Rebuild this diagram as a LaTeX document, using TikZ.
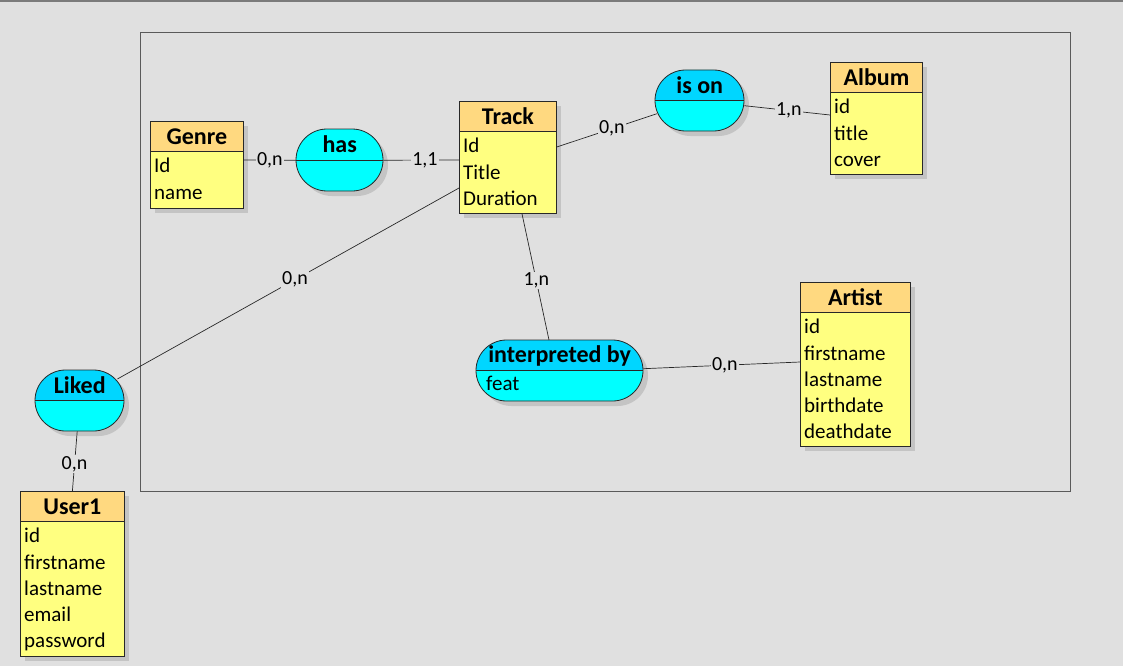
\documentclass[tikz,border=0pt]{standalone}
\usepackage{fontspec}
\setmainfont{Carlito}
\usetikzlibrary{calc}
\definecolor{bgc}{RGB}{224,224,224}
\definecolor{framec}{RGB}{90,90,90}
\definecolor{hdrc}{RGB}{255,217,128}
\definecolor{bodyc}{RGB}{255,255,128}
\definecolor{cyhdr}{RGB}{0,214,255}
\definecolor{cybody}{RGB}{0,255,255}
\definecolor{shadc}{RGB}{196,196,196}
\definecolor{linec}{RGB}{40,40,40}
\tikzset{
  ent/.style={draw=linec, line width=0.8pt, inner sep=0pt},
  titlefont/.style={font=\fontsize{24}{26}\selectfont\bfseries},
  attrs/.style={anchor=north west, align=left, inner sep=0pt, font=\fontsize{21}{26.3}\selectfont},
  lbl/.style={fill=bgc, inner sep=1pt, font=\fontsize{20}{22}\selectfont},
  conn/.style={draw=linec, line width=0.7pt},
  hid/.style={inner sep=0pt, anchor=north west}
}
% entity: #1 name, #2 x, #3 y, #4 w, #5 h, #6 title, #7 attrs
\newcommand\myentity[7]{%
  \fill[shadc] (#2+5,#3+5) rectangle ++(#4,#5);
  \node[ent, fill=bodyc, hid, minimum width=#4pt, minimum height=#5pt] (#1) at (#2,#3) {};
  \fill[hdrc] (#1.north west) rectangle ([yshift=-30pt]#1.north east);
  \draw[linec, line width=0.8pt] (#1.north west) rectangle (#1.south east);
  \draw[linec, line width=0.8pt] ([yshift=-30pt]#1.north west) -- ([yshift=-30pt]#1.north east);
  \node[titlefont] (#1-t) at ([yshift=-15.5pt]#1.north) {#6};
  \node[attrs] (#1-a) at ([xshift=4pt,yshift=-37pt]#1.north west) {#7};
}
% relation: #1 name, #2 x, #3 y, #4 w, #5 h, #6 title, #7 attrs, #8 header colour
\newcommand\myrel[8]{%
  \fill[shadc, rounded corners=#5*0.5pt] (#2+5,#3+5) rectangle ++(#4,#5);
  \fill[cybody, rounded corners=#5*0.5pt] (#2,#3) rectangle ++(#4,#5);
  \begin{scope}
    \clip[rounded corners=#5*0.5pt] (#2,#3) rectangle ++(#4,#5);
    \fill[#8] (#2,#3) rectangle ++(#4,#5*0.5);
  \end{scope}
  \draw[linec, line width=0.8pt, rounded corners=#5*0.5pt] (#2,#3) rectangle ++(#4,#5);
  \node[hid, minimum width=#4pt, minimum height=#5pt] (#1) at (#2,#3) {};
  \draw[linec, line width=0.8pt] (#1.west) -- (#1.east);
  \node[titlefont] (#1-t) at ([yshift=-15.5pt]#1.north) {#6};
  \node[attrs] (#1-a) at ([xshift=10pt,yshift=-5pt]#1.west) {#7};
}
\begin{document}
\begin{tikzpicture}[x=1pt,y=-1pt]
\fill[bgc] (0,0) rectangle (1123,666);
\useasboundingbox (0,0) rectangle (1123,666);
\draw[framec!80, line width=2pt] (0,1) -- (1123,1);
\draw[framec, line width=0.8pt] (140,32) rectangle (1070,491);

\myentity{genre}{150}{121}{93}{87}{Genre}{Id\\name}
\myentity{track}{459}{101}{97}{112}{Track}{Id\\Title\\Duration}
\myentity{album}{830}{62}{92}{112}{Album}{id\\title\\cover}
\myentity{artist}{800}{282}{110}{164}{Artist}{id\\firstname\\lastname\\birthdate\\deathdate}
\myentity{user}{20}{491}{104}{165}{User1}{id\\firstname\\lastname\\email\\password}

\myrel{has}{296}{129}{87}{62}{has}{}{cybody}
\myrel{ison}{655}{70}{89}{61}{is on}{}{cyhdr}
\myrel{interp}{476}{340}{167}{61}{interpreted by}{feat}{cyhdr}
\myrel{liked}{35}{370}{89}{61}{Liked}{}{cyhdr}

\draw[conn] ($(genre.north east)+(0,39)$) -- node[lbl]{0,n} (has.west);
\draw[conn] (has.east) -- node[lbl, pos=0.55]{1,1} ($(track.north west)+(0,59)$);
\draw[conn] ($(track.north east)+(0,46)$) -- node[lbl, pos=0.55]{0,n} ($(ison.west)+(2,13)$);
\draw[conn] ($(ison.east)+(0,5)$) -- node[lbl, pos=0.52]{1,n} ($(album.north west)+(0,53)$);
\draw[conn] ($(track.south west)+(63,0)$) -- node[lbl, pos=0.53]{1,n} ($(interp.north west)+(73,0)$);
\draw[conn] ($(interp.east)+(0,-2)$) -- node[lbl, pos=0.52]{0,n} ($(artist.north west)+(0,80)$);
\draw[conn] ($(track.north west)+(0,87)$) -- node[lbl, pos=0.48]{0,n} ($(liked.north east)+(-7,9)$);
\draw[conn] ($(liked.south)+(-2.5,0)$) -- node[lbl, pos=0.55]{0,n} (user.north);
\end{tikzpicture}
\end{document}
